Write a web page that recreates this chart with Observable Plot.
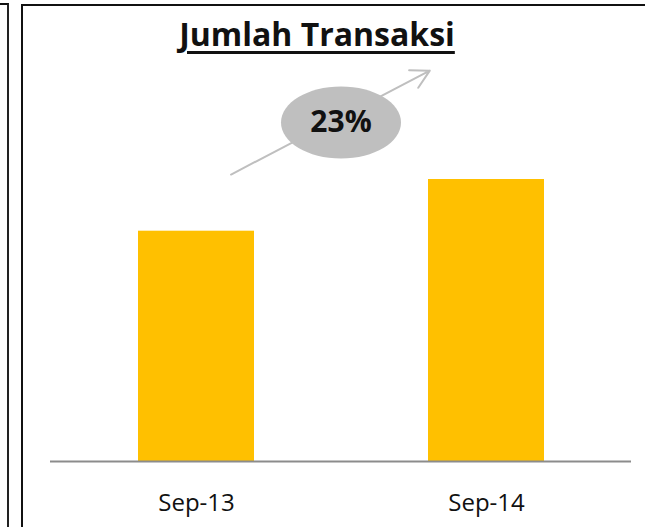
<!DOCTYPE html>
<html>
<head>
<meta charset="utf-8">
<script src="https://cdn.jsdelivr.net/npm/d3@7"></script>
<script src="https://cdn.jsdelivr.net/npm/@observablehq/plot@0.6"></script>
<style>
  html, body { margin: 0; padding: 0; background: #fff; }
  #wrap { position: relative; width: 645px; height: 527px; overflow: hidden; background: #fff; }
  #wrap svg { position: absolute; left: 0; top: 0; }
  .frame-prev { position: absolute; left: -20px; top: 3px; width: 27px; height: 600px;
    border-top: 2px solid #111; border-right: 2px solid #222; }
  .frame-main { position: absolute; left: 21px; top: 4px; width: 700px; height: 600px;
    border-top: 2px solid #111; border-left: 2px solid #111; }
  .title { position: absolute; left: 0; top: 12px; width: 634px; text-align: center;
    font-family: "Open Sans", sans-serif; font-weight: bold; font-size: 32px; color: #111;
    text-decoration: underline; text-decoration-thickness: 3px; text-underline-offset: 5px; z-index: 2; }
</style>
</head>
<body>
<div id="wrap">
  <div class="frame-prev"></div>
  <div class="frame-main"></div>
  <div class="title" id="title"></div>
</div>
<script>
// ---- data ----
const titleText = "Jumlah Transaksi";
const periods = ["Sep-13", "Sep-14"];
const values = [230.3, 282.0];
const growthLabel = "23%";
const growthBadgeValue = [339];
const arrowFrom = ["Sep-13"];
const arrowTo = ["Sep-14"];
const arrowStartValue = [268.9];
const arrowEndValue = [420.5];

// ---- tables built from arrays ----
const bars = periods.map((p, i) => ({period: p, value: values[i]}));
const arrowData = arrowFrom.map((f, i) => ({from: f, to: arrowTo[i], v1: arrowStartValue[i], v2: arrowEndValue[i]}));
const badge = growthBadgeValue.map(v => ({v, label: growthLabel}));

// custom ellipse symbol for the growth badge
const ellipseSymbol = {
  draw(ctx, size) {
    const rx = Math.sqrt(size / Math.PI), ry = rx * 0.6, k = 0.5523;
    ctx.moveTo(rx, 0);
    ctx.bezierCurveTo(rx, k * ry, k * rx, ry, 0, ry);
    ctx.bezierCurveTo(-k * rx, ry, -rx, k * ry, -rx, 0);
    ctx.bezierCurveTo(-rx, -k * ry, -k * rx, -ry, 0, -ry);
    ctx.bezierCurveTo(k * rx, -ry, rx, -k * ry, rx, 0);
    ctx.closePath();
  }
};

document.getElementById("title").textContent = titleText;

const chart = Plot.plot({
  width: 645,
  height: 527,
  marginLeft: 50,
  marginRight: 14,
  marginTop: 0,
  marginBottom: 66,
  style: {fontFamily: "Open Sans, sans-serif", fontSize: "24px", background: "transparent", color: "#111"},
  x: {domain: periods, paddingInner: 0.6, paddingOuter: 0.3, label: null},
  y: {domain: [0, 461], axis: null},
  marks: [
    Plot.barY(bars, {x: "period", y: "value", fill: "#FFC000"}),
    Plot.ruleY([0], {stroke: "#8c8c8c", strokeWidth: 2}),
    Plot.arrow(arrowData, {
      x1: "from", x2: "to", y1: "v1", y2: "v2",
      stroke: "#BFBFBF", strokeWidth: 2,
      headLength: 15.5, headAngle: 57,
      insetStart: 39, insetEnd: 64
    }),
    Plot.dot(badge, {y: "v", r: 60, fill: "#BFBFBF", stroke: "none", symbol: ellipseSymbol}),
    Plot.text(badge, {y: "v", text: "label", fontSize: 30, fontWeight: "bold", fill: "#111"}),
    Plot.axisX({tickSize: 0, tickPadding: 32, fontSize: 24, label: null})
  ]
});
document.getElementById("wrap").appendChild(chart);
</script>
</body>
</html>
